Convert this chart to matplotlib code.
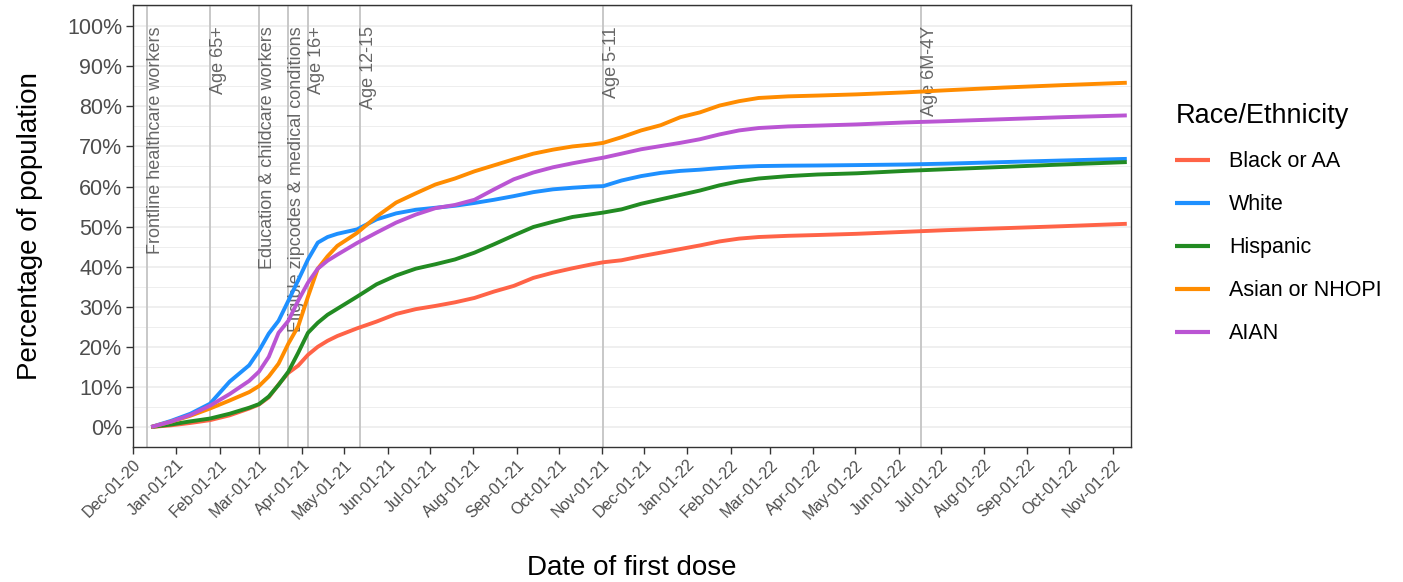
import matplotlib
matplotlib.use("Agg")
import matplotlib.pyplot as plt
import matplotlib.dates as mdates
import numpy as np
import pandas as pd

plt.rcParams["font.family"] = ["Liberation Sans", "DejaVu Sans"]

# ---- datos ----
fechas = pd.to_datetime([
    "2020-12-14", "2020-12-28", "2021-01-11", "2021-01-25", "2021-02-08",
    "2021-02-22", "2021-03-01", "2021-03-08", "2021-03-15", "2021-03-22",
    "2021-03-29", "2021-04-05", "2021-04-12", "2021-04-19", "2021-04-26",
    "2021-05-10", "2021-05-24", "2021-06-07", "2021-06-21", "2021-07-05",
    "2021-07-19", "2021-08-02", "2021-08-16", "2021-08-30", "2021-09-13",
    "2021-09-27", "2021-10-11", "2021-10-25", "2021-11-02", "2021-11-15",
    "2021-11-29", "2021-12-13", "2021-12-27", "2022-01-10", "2022-01-24",
    "2022-02-07", "2022-02-21", "2022-03-14", "2022-04-04", "2022-05-02",
    "2022-06-06", "2022-07-04", "2022-08-15", "2022-09-26", "2022-11-11",
])

black_aa = [0, 0.4, 1.0, 1.7, 2.9, 4.6, 5.6, 7.4, 10.6, 13.5,
            15.3, 18.0, 20.0, 21.5, 22.7, 24.6, 26.3, 28.2, 29.4, 30.2,
            31.1, 32.2, 33.8, 35.2, 37.2, 38.5, 39.6, 40.6, 41.1, 41.6,
            42.6, 43.5, 44.4, 45.3, 46.3, 47.0, 47.4, 47.7, 47.9, 48.2,
            48.7, 49.1, 49.6, 50.1, 50.7]
white = [0, 1.5, 3.3, 5.8, 11.3, 15.4, 19.0, 23.3, 26.5, 31.5,
         36.6, 41.8, 46.0, 47.4, 48.2, 49.3, 51.8, 53.3, 54.2, 54.7,
         55.2, 55.9, 56.7, 57.6, 58.6, 59.3, 59.7, 60.0, 60.1, 61.5,
         62.6, 63.4, 63.9, 64.2, 64.6, 64.9, 65.1, 65.2, 65.25, 65.35,
         65.5, 65.7, 66.1, 66.5, 66.9]
hispanic = [0, 0.6, 1.4, 2.1, 3.3, 4.8, 5.7, 7.6, 10.5, 13.8,
            18.5, 23.5, 26.0, 28.0, 29.5, 32.5, 35.6, 37.8, 39.5, 40.6,
            41.8, 43.5, 45.6, 47.8, 49.9, 51.2, 52.4, 53.1, 53.5, 54.3,
            55.7, 56.8, 57.9, 59.0, 60.3, 61.3, 62.0, 62.6, 63.0, 63.3,
            63.9, 64.3, 64.9, 65.5, 66.1]
asian_nhopi = [0, 1.3, 2.8, 4.6, 6.6, 8.7, 10.2, 12.6, 15.8, 20.8,
               25.1, 32.5, 39.5, 42.6, 45.2, 48.4, 52.5, 56.0, 58.3, 60.5,
               62.0, 63.8, 65.3, 66.8, 68.2, 69.2, 70.0, 70.5, 70.9, 72.3,
               74.0, 75.3, 77.3, 78.5, 80.2, 81.3, 82.1, 82.5, 82.7, 83.0,
               83.5, 84.0, 84.7, 85.3, 85.9]
aian = [0, 1.3, 3.0, 5.3, 8.2, 11.5, 13.8, 17.5, 23.5, 26.5,
        31.5, 36.0, 39.5, 41.5, 43.0, 45.9, 48.5, 51.0, 53.0, 54.6,
        55.4, 56.7, 59.3, 61.8, 63.5, 64.8, 65.8, 66.7, 67.2, 68.2,
        69.3, 70.1, 70.9, 71.8, 73.0, 74.0, 74.6, 75.0, 75.2, 75.5,
        76.0, 76.3, 76.8, 77.3, 77.75]

grupos = ["Black or AA", "White", "Hispanic", "Asian or NHOPI", "AIAN"]
series = [black_aa, white, hispanic, asian_nhopi, aian]
colores = ["#FF6347", "#1E90FF", "#228B22", "#FF8C00", "#BA55D3"]

# fases de elegibilidad
eventos_fecha = pd.to_datetime([
    "2020-12-11", "2021-01-25", "2021-03-01", "2021-03-22",
    "2021-04-05", "2021-05-12", "2021-11-02", "2022-06-17",
])
eventos_texto = [
    "Frontline healthcare workers", "Age 65+", "Education & childcare workers",
    "Eligible zipcodes & medical conditions", "Age 16+", "Age 12-15",
    "Age 5-11", "Age 6M-4Y",
]

fig = plt.figure(figsize=(14.03, 5.82), dpi=100)
ax = fig.add_axes([133 / 1403, 135 / 582, 998 / 1403, 442 / 582])

# rejilla horizontal (mayor y menor)
for v in np.arange(-5, 106, 5):
    ax.axhline(v, color="#EBEBEB", lw=1.1 if v % 10 == 0 else 0.6, zorder=0)

for f in eventos_fecha:
    ax.axvline(f, color="#C4C4C4", lw=1.3, zorder=1)

for f, t in zip(eventos_fecha, eventos_texto):
    ax.text(f, 100, t, rotation=90, ha="left", va="top",
            fontsize=13, color="#666666", zorder=2)

for nombre, vals, col in zip(grupos, series, colores):
    ax.plot(fechas, vals, color=col, lw=2.8, label=nombre, zorder=3,
            solid_capstyle="butt")

ax.set_xlim(pd.Timestamp("2020-12-01"), pd.Timestamp("2022-11-14"))
ax.set_ylim(-5, 105.3)
ax.set_yticks(np.arange(0, 101, 10))
ax.set_yticklabels([f"{v}%" for v in range(0, 101, 10)])
ax.xaxis.set_major_locator(mdates.MonthLocator())
ax.xaxis.set_major_formatter(mdates.DateFormatter("%b-%d-%y"))

ax.tick_params(axis="both", direction="out", length=4.8, width=1.0,
               color="#333333", labelcolor="#4D4D4D")
ax.tick_params(axis="y", labelsize=15.5, pad=3)
ax.tick_params(axis="x", labelsize=11.5, pad=2.5)
for lbl in ax.get_xticklabels():
    lbl.set_rotation(45)
    lbl.set_ha("right")
    lbl.set_va("top")
    lbl.set_rotation_mode("anchor")

for s in ax.spines.values():
    s.set_color("#333333")
    s.set_linewidth(1.0)

ax.set_xlabel("Date of first dose", fontsize=20, labelpad=24)
ax.set_ylabel("Percentage of population", fontsize=20, labelpad=17)

leg = fig.legend(loc="upper left", bbox_to_anchor=(1156 / 1403, 1 - 84 / 582),
                 frameon=False, title="Race/Ethnicity", fontsize=15.5,
                 title_fontsize=19.5, handlelength=1.6, handletextpad=0.9,
                 labelspacing=1.02, alignment="left")
for linea in leg.get_lines():
    linea.set_linewidth(3.0)

plt.savefig("out.png", dpi=100)
